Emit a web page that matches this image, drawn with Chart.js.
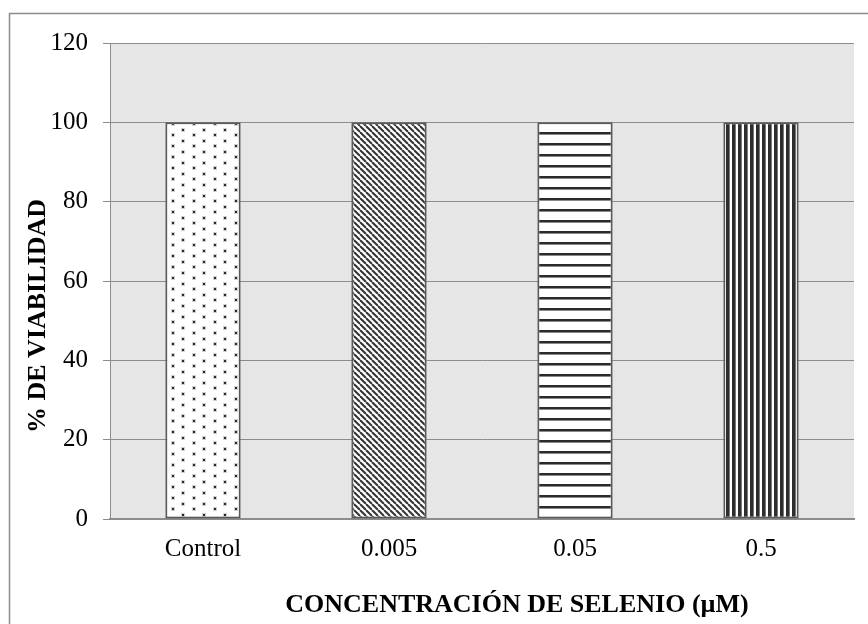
<!DOCTYPE html>
<html>
<head>
<meta charset="utf-8">
<script src="https://cdn.jsdelivr.net/npm/chart.js@4/dist/chart.umd.min.js"></script>
<style>
  html, body { margin: 0; padding: 0; background: #fff; }
  #wrap { width: 868px; height: 624px; }
</style>
</head>
<body>
<div id="wrap"><canvas id="chart" width="868" height="624"></canvas></div>
<script>
// datos
const categorias = ['Control', '0.005', '0.05', '0.5']
const viabilidad = [100, 100, 100, 100]
const yMin = 0
const yMax = 120
const yPaso = 20
const tituloY = '% DE VIABILIDAD'
const tituloX = 'CONCENTRACIÓN DE SELENIO (µM)'

const FONT = '"Liberation Serif", "Times New Roman", serif'

// patrones de relleno de cada barra
const hacerTile = (w, h, dibujar) => {
  const c = document.createElement('canvas')
  c.width = w
  c.height = h
  const g = c.getContext('2d')
  g.fillStyle = '#ffffff'
  g.fillRect(0, 0, w, h)
  dibujar(g, w, h)
  return document.getElementById('chart').getContext('2d').createPattern(c, 'repeat')
}

const patronPuntos = hacerTile(21, 11, (g) => {
  g.fillStyle = '#d0d0d0'
  g.fillRect(3, 1, 4, 4)
  g.fillRect(13, 7, 4, 4)
  g.fillStyle = '#2a2a2a'
  g.fillRect(4, 2, 2, 2)
  g.fillRect(14, 8, 2, 2)
})

const patronDiagonal = hacerTile(6, 6, (g, w, h) => {
  g.strokeStyle = '#333333'
  g.lineWidth = 2
  for (let k = -1; k <= 1; k++) {
    g.beginPath()
    g.moveTo(k * w, 0)
    g.lineTo(k * w + w, h)
    g.stroke()
  }
})

const patronHorizontal = hacerTile(4, 11, (g) => {
  g.fillStyle = '#2a2a2a'
  g.fillRect(0, 0, 4, 2)
  g.fillStyle = '#8a8a8a'
  g.fillRect(0, 2, 4, 1)
})

const patronVertical = hacerTile(6, 4, (g) => {
  g.fillStyle = '#2e2e2e'
  g.fillRect(0, 0, 3, 4)
  g.fillStyle = '#7a7a7a'
  g.fillRect(3, 0, 1, 4)
})

const fondoYTitulos = {
  id: 'fondoYTitulos',
  beforeDraw(chart) {
    const { ctx, chartArea: a } = chart
    ctx.save()
    ctx.fillStyle = '#ffffff'
    ctx.fillRect(0, 0, chart.width, chart.height)
    ctx.strokeStyle = '#8c8c8c'
    ctx.lineWidth = 1.5
    ctx.strokeRect(9.5, 13.5, 1000, 1000)
    ctx.fillStyle = '#e6e6e6'
    ctx.fillRect(a.left, a.top, a.right - a.left, a.bottom - a.top)
    ctx.restore()
  },
  afterDraw(chart) {
    const { ctx } = chart
    ctx.save()
    ctx.fillStyle = '#000'
    ctx.font = 'bold 26px ' + FONT
    ctx.textAlign = 'center'
    ctx.textBaseline = 'middle'
    ctx.fillText(tituloX, 517, 605)
    ctx.translate(38, 316)
    ctx.rotate(-Math.PI / 2)
    ctx.fillText(tituloY, 0, 0)
    ctx.restore()
  }
}

new Chart(document.getElementById('chart'), {
  type: 'bar',
  data: {
    labels: categorias,
    datasets: [{
      data: viabilidad,
      backgroundColor: [patronPuntos, patronDiagonal, patronHorizontal, patronVertical],
      borderColor: '#595959',
      borderWidth: 2,
      borderSkipped: false,
      categoryPercentage: 1,
      barPercentage: 0.405
    }]
  },
  options: {
    responsive: false,
    animation: false,
    layout: { padding: { left: 0, top: 43, right: 14, bottom: 0 } },
    plugins: {
      legend: { display: false },
      tooltip: { enabled: false }
    },
    scales: {
      x: {
        grid: { display: false, drawTicks: false },
        border: { display: true, color: '#8c8c8c', width: 2 },
        ticks: { color: '#000', font: { family: FONT, size: 25 }, padding: 15 },
        afterFit: (s) => { s.height = 105 }
      },
      y: {
        min: yMin,
        max: yMax,
        grid: { color: '#8c8c8c', lineWidth: 1, tickLength: 7 },
        border: { display: true, color: '#8c8c8c', width: 1 },
        ticks: { stepSize: yPaso, color: '#000', font: { family: FONT, size: 25 }, padding: 15 },
        afterFit: (s) => { s.width = 110 }
      }
    }
  },
  plugins: [fondoYTitulos]
})
</script>
</body>
</html>
